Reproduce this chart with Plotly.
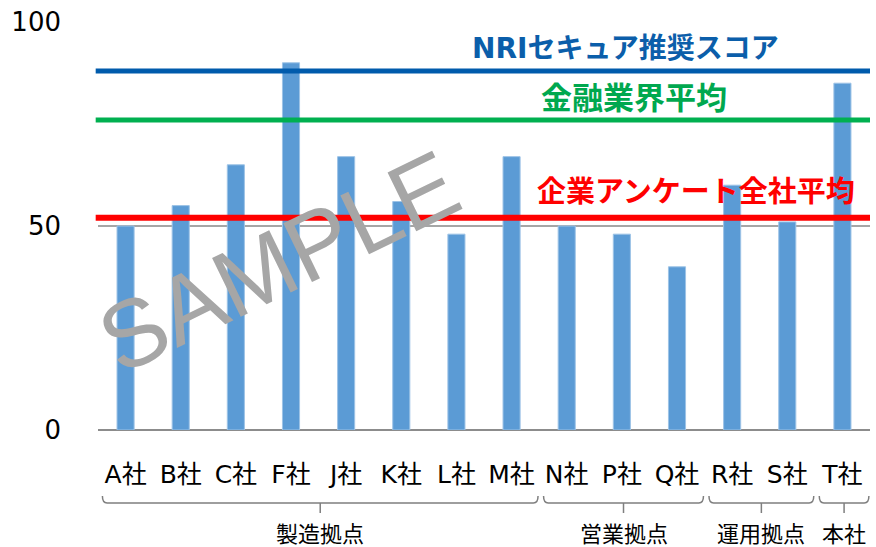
import plotly.graph_objects as go

# ---- data ----
companies = ["A社", "B社", "C社", "F社", "J社", "K社", "L社", "M社",
             "N社", "P社", "Q社", "R社", "S社", "T社"]
scores = [50, 55, 65, 90, 67, 56, 48, 67, 50, 48, 40, 60, 51, 85]

ref_names = ["NRIセキュア推奨スコア", "金融業界平均", "企業アンケート全社平均"]
ref_values = [88, 76, 52]
ref_colors = ["#005BAC", "#00B050", "#FF0000"]
ref_text_colors = ["#0B5EAA", "#00A84F", "#FF0000"]

group_names = ["製造拠点", "営業拠点", "運用拠点", "本社"]
group_first = [0, 8, 11, 13]
group_last = [7, 10, 12, 13]

y_ticks = [0, 50, 100]

# ---- layout helpers ----
W, H = 876, 547
ML, MR, MT, MB = 98, 6, 22, 117
n = len(companies)
plot_w = W - ML - MR
plot_h = H - MT - MB


def px_to_paper_y(py):
    return (H - MB - py) / plot_h


def idx_to_paper_x(i):
    return (i + 0.5) / n


fig = go.Figure()
fig.add_trace(go.Bar(
    x=companies, y=scores, width=0.31,
    marker=dict(color="#5B9BD5", line=dict(color="#9DC3E6", width=1)),
    showlegend=False,
))

shapes = []
annotations = []

# reference lines + labels
label_pos = [(625, 48), (634, 98), (696, 192)]
label_size = [28, 31, 29]
for name, val, col, tcol, (lx, ly), fs in zip(ref_names, ref_values, ref_colors,
                                              ref_text_colors, label_pos, label_size):
    lw = 6 if col == "#FF0000" else 5
    shapes.append(dict(type="line", xref="paper", yref="y", x0=-0.003, x1=1,
                       y0=val, y1=val, line=dict(color=col, width=lw)))
    annotations.append(dict(text=f"<b>{name}</b>", xref="paper", yref="paper",
                            x=(lx - ML) / plot_w, y=px_to_paper_y(ly),
                            showarrow=False,
                            xanchor="center", yanchor="middle",
                            font=dict(size=fs, color=tcol,
                                      family="DejaVu Sans, Noto Sans CJK JP")))

# group brackets
y_end = px_to_paper_y(496)
y_bar = px_to_paper_y(503)
y_tip = px_to_paper_y(513)
bracket_col = "#7F7F7F"
for gname, f, l in zip(group_names, group_first, group_last):
    x0 = idx_to_paper_x(f - 0.5 + 0.08)
    x1 = idx_to_paper_x(l + 0.5 - 0.02)
    xc = (x0 + x1) / 2
    r = 0.006
    path = (f"M {x0},{y_end} Q {x0},{y_bar} {x0 + r},{y_bar} "
            f"L {x1 - r},{y_bar} Q {x1},{y_bar} {x1},{y_end} "
            f"M {xc},{y_bar} L {xc},{y_tip}")
    shapes.append(dict(type="path", xref="paper", yref="paper", path=path,
                       line=dict(color=bracket_col, width=1.5)))
    annotations.append(dict(text=gname, xref="paper", yref="paper", x=xc,
                            y=px_to_paper_y(532), showarrow=False,
                            xanchor="center", yanchor="middle",
                            font=dict(size=22, color="#000000",
                                      family="Noto Sans CJK JP")))

# watermark
annotations.append(dict(text="SAMPLE", xref="paper", yref="paper",
                        x=(278 - ML) / plot_w, y=px_to_paper_y(262),
                        xanchor="center", yanchor="middle",
                        showarrow=False, textangle=-26,
                        font=dict(size=95, color="#A6A6A6",
                                  family="Liberation Sans, Arial")))

fig.update_layout(
    width=W, height=H,
    margin=dict(l=ML, r=MR, t=MT, b=MB),
    paper_bgcolor="white", plot_bgcolor="white",
    shapes=shapes, annotations=annotations,
    font=dict(family="DejaVu Sans, Noto Sans CJK JP", color="#000000"),
)
fig.update_xaxes(
    type="category", showgrid=False, showline=False, ticks="",
    tickfont=dict(size=25, family="DejaVu Sans, Noto Sans CJK JP"),
    ticklabelstandoff=27, range=[-0.5, n - 0.5],
)
fig.update_yaxes(
    range=[0, 100], tickvals=y_ticks, showgrid=True, gridcolor="#A6A6A6",
    gridwidth=2, zeroline=True, zerolinecolor="#8C8C8C", zerolinewidth=2,
    showline=False, ticks="", ticklabelstandoff=36,
    tickfont=dict(size=26, family="DejaVu Sans"),
)

fig.write_html("out.html")
